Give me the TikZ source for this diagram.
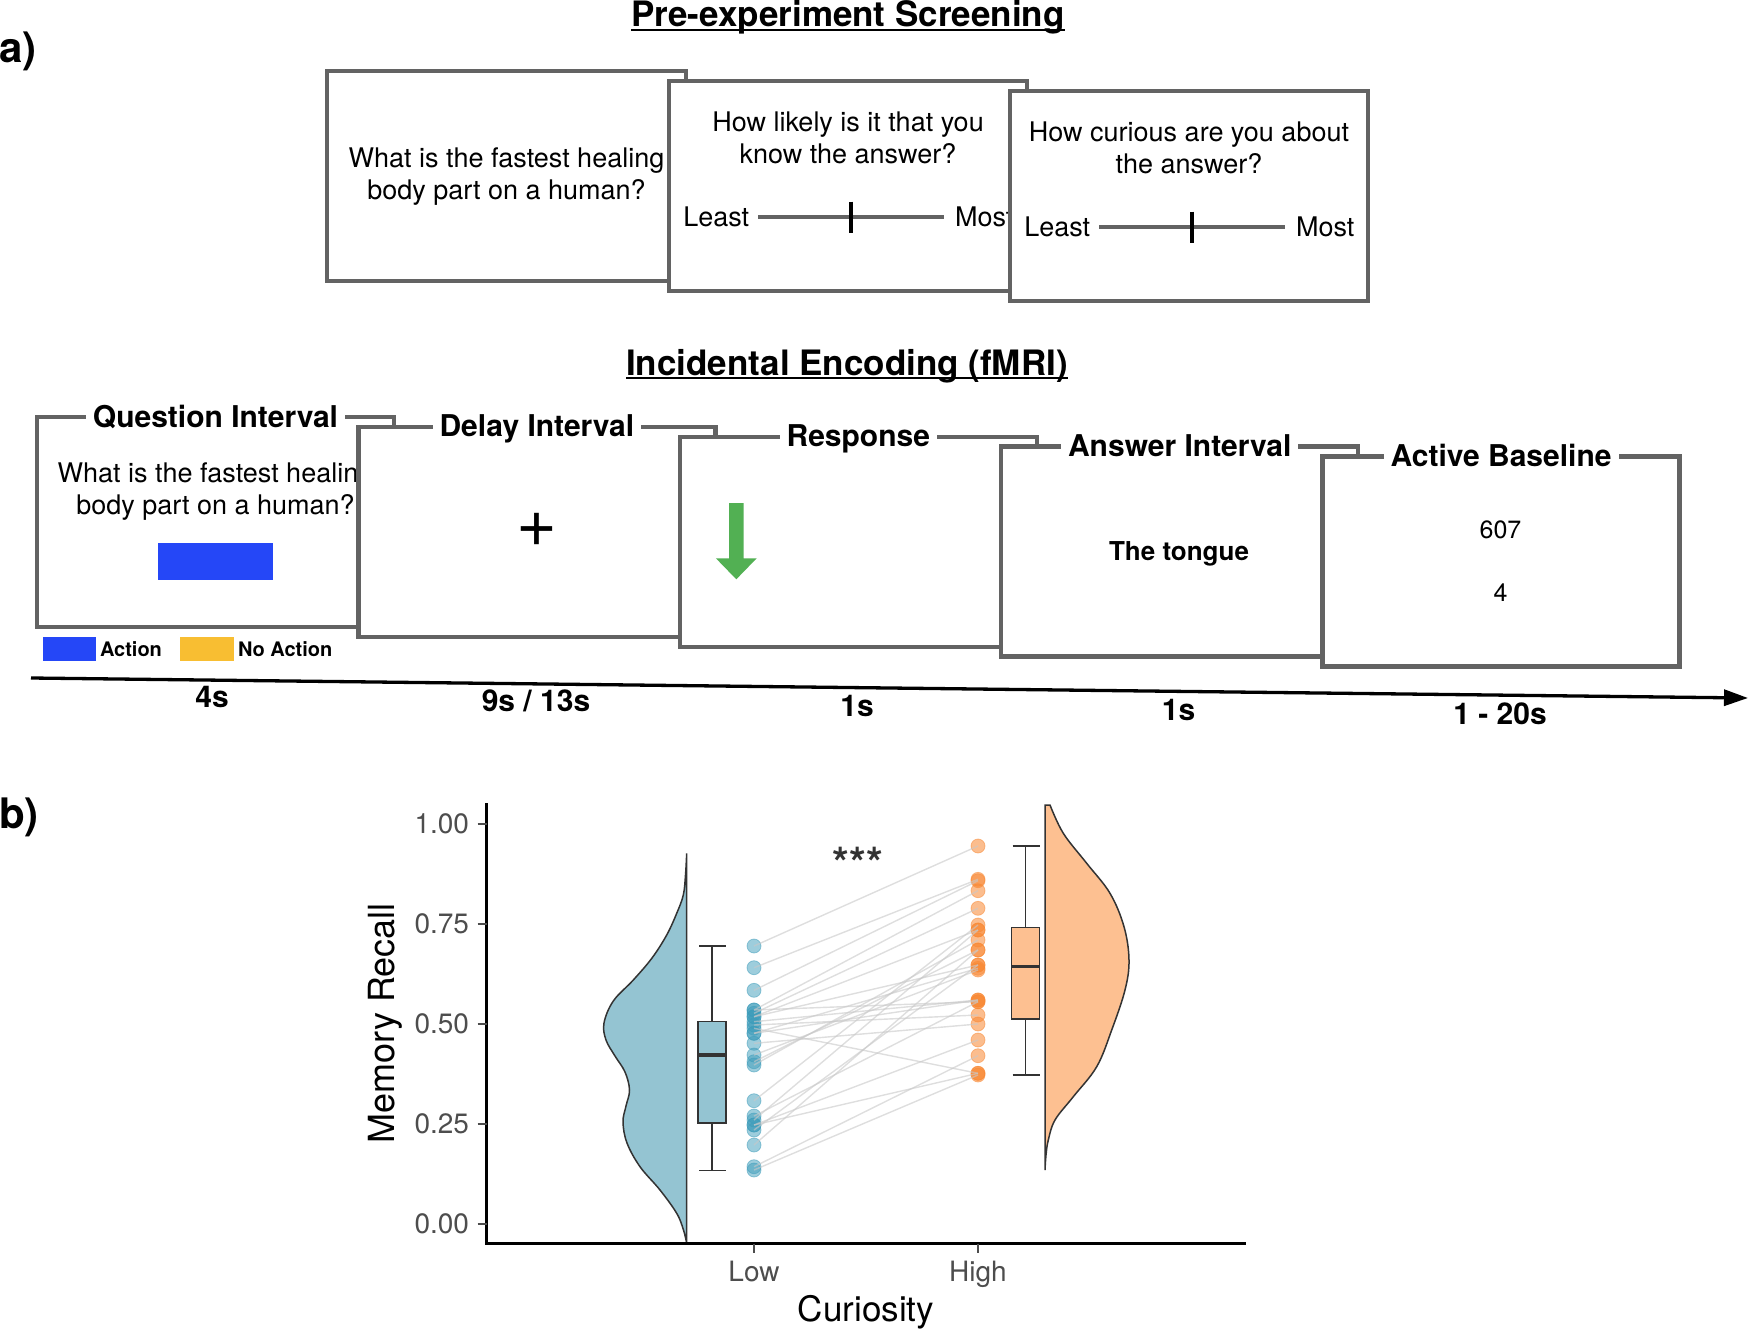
\documentclass[tikz,border=0pt]{standalone}
\usepackage{fontspec}
\setmainfont{TeX Gyre Heros}
\usetikzlibrary{arrows.meta}
\newcommand{\myfs}[1]{\fontsize{#1}{#1}\selectfont}
\definecolor{boxgray}{RGB}{99,99,99}
\definecolor{blueA}{RGB}{37,71,247}
\definecolor{orangeA}{RGB}{248,190,50}
\definecolor{greenA}{RGB}{82,176,83}
\definecolor{lowfill}{RGB}{148,196,210}
\definecolor{highfill}{RGB}{253,192,145}
\definecolor{lowdot}{RGB}{60,155,185}
\definecolor{highdot}{RGB}{248,135,50}
\definecolor{axgray}{RGB}{77,77,77}
\definecolor{outl}{RGB}{51,51,51}
\definecolor{pairgray}{RGB}{200,200,200}
\begin{document}
\begin{tikzpicture}[x=1pt,y=-1pt,
  every node/.style={inner sep=0pt, outer sep=0pt},
  scrbox/.style={draw=boxgray, line width=4.5pt, fill=white, anchor=north west},
  qtxt/.style={font=\myfs{27}, anchor=base},
  sidetxt/.style={font=\myfs{27}, anchor=base west},
  lbl/.style={font={\bfseries\myfs{30}}, fill=white, inner xsep=7pt, inner ysep=3pt, anchor=base},
  ttl/.style={font={\bfseries\myfs{35}}, anchor=base},
  tlab/.style={font={\bfseries\myfs{30}}, anchor=base},
  leg/.style={font={\bfseries\myfs{20}}, anchor=base west},
  slider/.style={draw=boxgray, line width=4pt},
  slidetick/.style={draw=black, line width=3.5pt},
  tick/.style={font=\myfs{28}, text=axgray},
  plotline/.style={draw=outl, line width=1.5pt},
  pairline/.style={draw=pairgray, line width=1.4pt, opacity=0.6},
  lowpt/.style={fill=lowdot, fill opacity=0.5, draw=lowdot, draw opacity=0.5, line width=0.8pt},
  highpt/.style={fill=highdot, fill opacity=0.55, draw=highdot, draw opacity=0.5, line width=0.8pt}]
\useasboundingbox (0,0) rectangle (1750,1332);

% panel labels
\node[font={\bfseries\myfs{42}}, anchor=base west] (pa) at (-1,63) {a)};
\node[font={\bfseries\myfs{42}}, anchor=base west] (pb) at (-1,828) {b)};

% ---------- Pre-experiment screening ----------
\node[ttl] (t1) at (848,27) {Pre-experiment Screening};
\draw[line width=2.5pt] ([yshift=-3pt]t1.base west) -- ([yshift=-3pt]t1.base east);

\node[scrbox, minimum width=359pt, minimum height=210pt] (pre1) at (327,71) {};
\node[qtxt] (pre1a) at (506.5,168) {What is the fastest healing};
\node[qtxt] (pre1b) at (506.5,200) {body part on a human?};

\node[scrbox, minimum width=358pt, minimum height=210pt] (pre2) at (669,81) {};
\node[qtxt] (pre2a) at (848,131.7) {How likely is it that you};
\node[qtxt] (pre2b) at (848,163.3) {know the answer?};
\node[sidetxt] (pre2l) at (683.3,226.7) {Least};
\node[sidetxt] (pre2m) at (955,226.7) {Most};
\coordinate (s2a) at (758,217.3); \coordinate (s2b) at (944,217.3);
\coordinate (k2a) at (851,201.7); \coordinate (k2b) at (851,233.3);
\draw[slider] (s2a) -- (s2b);
\draw[slidetick] (k2a) -- (k2b);

\node[scrbox, minimum width=358pt, minimum height=210pt] (pre3) at (1010,91) {};
\node[qtxt] (pre3a) at (1189,141.7) {How curious are you about};
\node[qtxt] (pre3b) at (1189,173.3) {the answer?};
\node[sidetxt] (pre3l) at (1024.3,236.5) {Least};
\node[sidetxt] (pre3m) at (1296,236.5) {Most};
\coordinate (s3a) at (1099,227.3); \coordinate (s3b) at (1285,227.3);
\coordinate (k3a) at (1192,211.7); \coordinate (k3b) at (1192,243.3);
\draw[slider] (s3a) -- (s3b);
\draw[slidetick] (k3a) -- (k3b);

% ---------- Incidental encoding ----------
\node[ttl] (t2) at (847,375) {Incidental Encoding (fMRI)};
\draw[line width=2.5pt] ([yshift=-3pt]t2.base west) -- ([yshift=-3pt]t2.base east);

% Box A
\node[scrbox, minimum width=357pt, minimum height=210pt] (bA) at (37,417) {};
\node[lbl] (lA) at (215.5,427) {Question Interval};
\node[qtxt] (qA1) at (215.5,482) {What is the fastest healing};
\node[qtxt] (qA2) at (215.5,514) {body part on a human?};
\fill[blueA] (157.5,543.3) rectangle (273.2,580);
% legend
\fill[blueA] (42.7,636.7) rectangle (96.4,661);
\node[leg] (legA) at (100,656) {Action};
\fill[orangeA] (180,636.7) rectangle (234.2,661);
\node[leg] (legN) at (238,656) {No Action};

% Box B
\node[scrbox, minimum width=357pt, minimum height=210pt] (bB) at (358.4,426.9) {};
\node[lbl] (lB) at (536.9,436.9) {Delay Interval};
\node[font=\myfs{70}] (plus) at (536.5,530) {+};

% Box C
\node[scrbox, minimum width=357pt, minimum height=210pt] (bC) at (679.8,436.8) {};
\node[lbl] (lC) at (858.3,446.8) {Response};
\fill[greenA] (729,503) -- (743.7,503) -- (743.7,558.3) -- (756.7,558.3) -- (736.3,579.3) -- (715.9,558.3) -- (729,558.3) -- cycle;

% Box D
\node[scrbox, minimum width=357pt, minimum height=210pt] (bD) at (1001.2,446.7) {};
\node[lbl] (lD) at (1179.7,456.7) {Answer Interval};
\node[font={\bfseries\myfs{26}}, anchor=base] (ans) at (1179,560) {The tongue};

% Box E
\node[scrbox, minimum width=357pt, minimum height=210pt] (bE) at (1322.6,456.6) {};
\node[lbl] (lE) at (1501.1,466.6) {Active Baseline};
\node[font=\myfs{25}, anchor=base] (n607) at (1500.5,538.3) {607};
\node[font=\myfs{25}, anchor=base] (n4) at (1500.5,601.7) {4};

% timeline
\coordinate (tl0) at (31,678);
\coordinate (tl1) at (1748,698);
\draw[line width=3.3pt, -{Triangle[length=24pt,width=16pt]}] (tl0) -- (tl1);
\node[tlab] (d1) at (212,707) {4s};
\node[tlab] (d2) at (536,711) {9s / 13s};
\node[tlab] (d3) at (857,716) {1s};
\node[tlab] (d4) at (1178.5,720) {1s};
\node[tlab] (d5) at (1500,724) {1 - 20s};

% ---------- Plot b ----------
% violins
\filldraw[fill=lowfill, draw=outl, line width=1.5pt]
  plot[smooth, tension=0.6] coordinates {(686.7,853.3) (685.5,875) (683.3,895) (676.7,913.3) (666.7,935) (652,958) (633.3,980) (613.3,1001) (604,1023) (606,1040) (615,1056) (625,1072) (629.5,1090) (626,1106) (623,1122) (627,1143) (640,1166.7) (660,1190) (676.7,1213.3) (683.5,1230) (686.7,1243.3)} -- cycle;
\filldraw[fill=highfill, draw=outl, line width=1.5pt]
  plot[smooth, tension=0.6] coordinates {(1050,805) (1063.3,833.3) (1086.7,863.3) (1110,893.3) (1124,926.7) (1129,960) (1125,990) (1111.7,1030) (1096.7,1066.7) (1073.3,1096.7) (1055,1120) (1048.3,1140) (1046,1155) (1045,1170)} -- (1045,805) -- cycle;

% boxplots
\draw[plotline] (712,946) -- (712,1021.5) (712,1123) -- (712,1170.7);
\draw[plotline] (699,946) -- (725.8,946) (699,1170.7) -- (725.8,1170.7);
\filldraw[fill=lowfill, plotline] (698,1021.5) rectangle (726,1123);
\draw[draw=outl, line width=3.5pt] (698,1055) -- (726,1055);

\draw[plotline] (1025.6,846) -- (1025.6,927.5) (1025.6,1019) -- (1025.6,1075);
\draw[plotline] (1012.5,846) -- (1039.6,846) (1012.5,1075) -- (1039.6,1075);
\filldraw[fill=highfill, plotline] (1011.6,927.5) rectangle (1039.6,1019);
\draw[draw=outl, line width=3.5pt] (1011.6,966.5) -- (1039.6,966.5);

% points and pair lines
\foreach \a/\b in {946/846, 967.7/879.3, 990.3/880.7, 1010/890.7, 1013.3/908.3, 1016.7/965, 1021.7/1000, 1025/1015, 1028.3/1073.3, 1033.3/968.3, 1043.3/1024, 1055/970, 1061.7/950, 1065/940, 1100.7/925, 1116/1001.7, 1120/930, 1125/1040, 1130/965, 1145/950, 1166.7/1055.7, 1170/1075, 1010/1001.7, 1125/1073.3, 1016.7/930, 1033.3/1000}{
  \path[lowpt] (754,\a) circle[radius=7pt];
  \path[highpt] (978,\b) circle[radius=7pt];
}
\foreach \a/\b in {946/846, 967.7/879.3, 990.3/880.7, 1010/890.7, 1013.3/908.3, 1016.7/965, 1021.7/1000, 1025/1015, 1028.3/1073.3, 1033.3/968.3, 1043.3/1024, 1055/970, 1061.7/950, 1065/940, 1100.7/925, 1116/1001.7, 1120/930, 1125/1040, 1130/965, 1145/950, 1166.7/1055.7, 1170/1075, 1010/1001.7, 1125/1073.3, 1016.7/930, 1033.3/1000}{
  \draw[pairline] (754,\a) -- (978,\b);
}

% axes
\coordinate (ytop) at (486.5,804.5);
\coordinate (orig) at (486.5,1243.5);
\coordinate (xend) at (1245,1243.5);
\draw[line width=2.5pt, line cap=rect] (ytop) -- (orig) -- (xend);
\foreach \v/\yy in {1.00/824.2, 0.75/924.1, 0.50/1024, 0.25/1123.8, 0.00/1223.7}{
  \draw[line width=2pt, draw=axgray] (477.5,\yy) -- (486.5,\yy);
  \node[tick, anchor=east] at (469,\yy) {\v};
}
\draw[line width=2pt, draw=axgray] (754,1243.5) -- (754,1252.5);
\draw[line width=2pt, draw=axgray] (978,1243.5) -- (978,1252.5);
\node[tick, anchor=base] (xlow) at (754,1281.5) {Low};
\node[tick, anchor=base] (xhigh) at (978,1281.5) {High};
\node[font=\myfs{35}, anchor=base] (xttl) at (866,1321) {Curiosity};
\node[font=\myfs{36}, anchor=base, rotate=90] (yttl) at (394.5,1023.5) {Memory Recall};
\node[font={\bfseries\myfs{43}}, text=outl, anchor=base] (sig) at (858,878) {***};
\end{tikzpicture}
\end{document}
